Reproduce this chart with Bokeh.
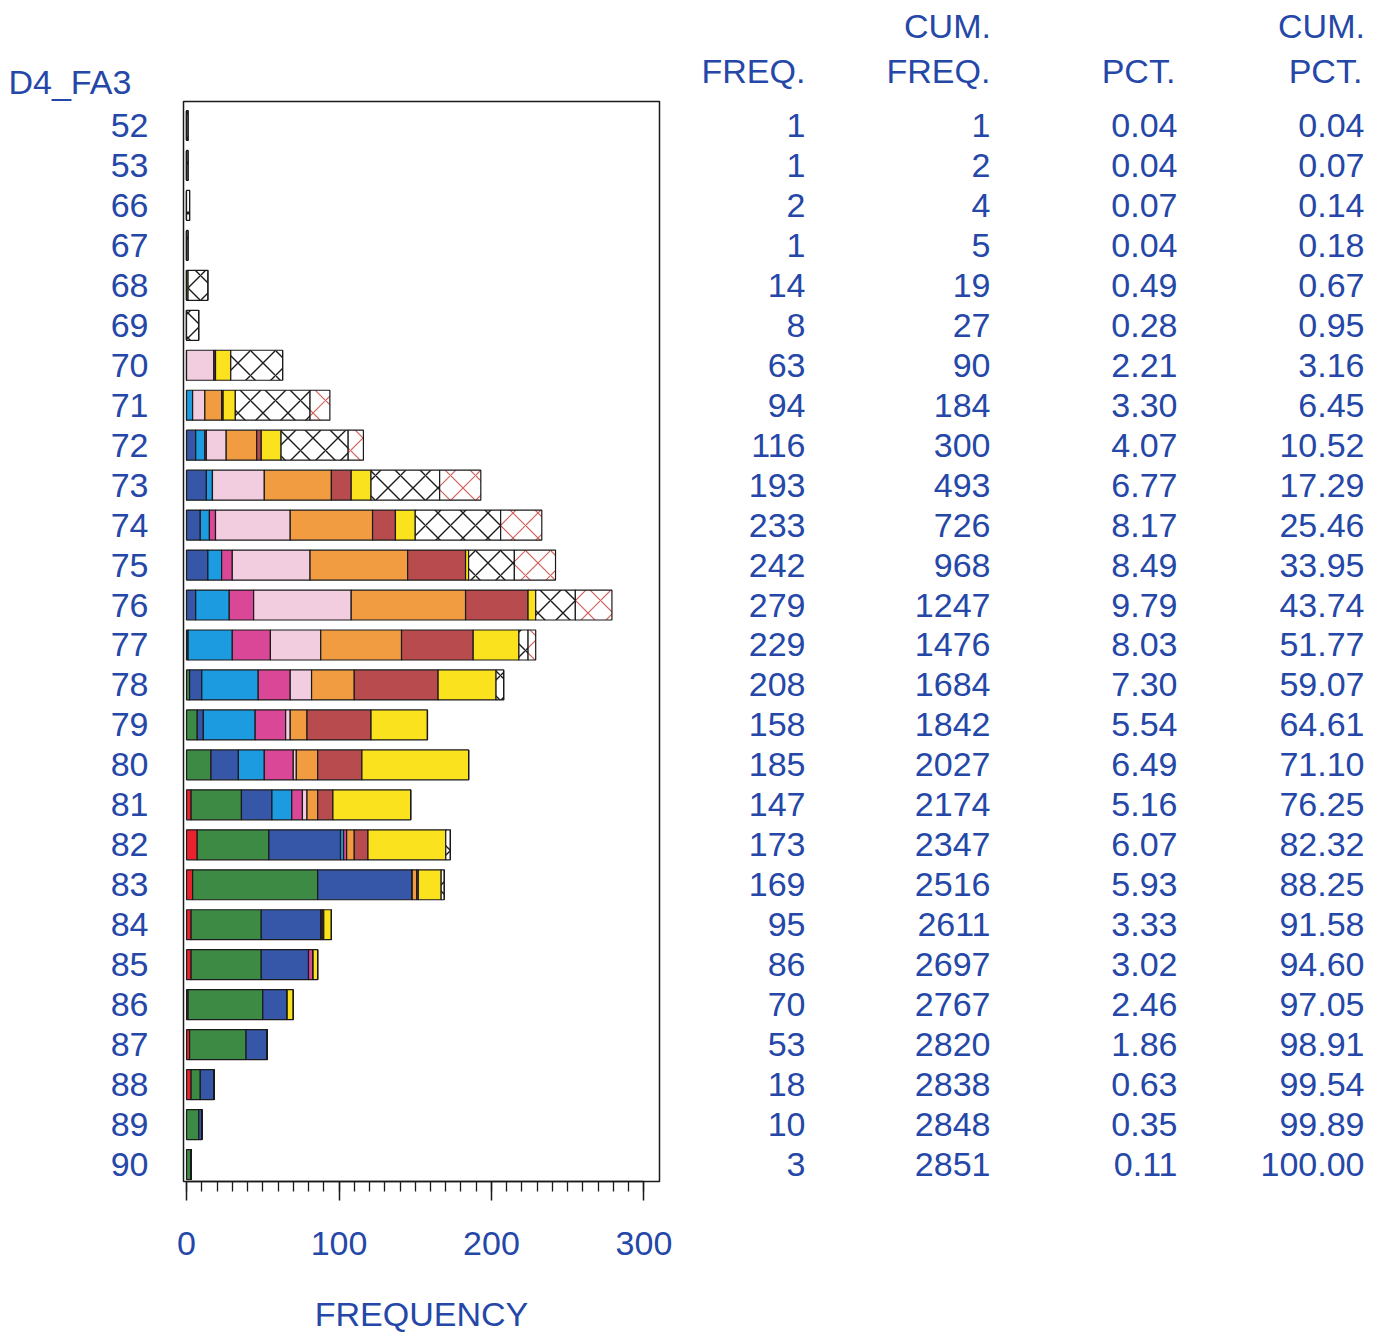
from bokeh.plotting import figure
from bokeh.models import Range1d, FixedTicker, ColumnDataSource, LinearAxis
from bokeh.layouts import row
from bokeh.transform import stack
from bokeh.core.properties import value
from bokeh.embed import file_html
from bokeh.resources import INLINE

# ---------------- data ----------------
categories = ["52", "53", "66", "67", "68", "69", "70", "71", "72", "73", "74", "75", "76", "77",
              "78", "79", "80", "81", "82", "83", "84", "85", "86", "87", "88", "89", "90"]
freq = [1, 1, 2, 1, 14, 8, 63, 94, 116, 193, 233, 242, 279, 229,
        208, 158, 185, 147, 173, 169, 95, 86, 70, 53, 18, 10, 3]
cum_freq = [1, 2, 4, 5, 19, 27, 90, 184, 300, 493, 726, 968, 1247, 1476,
            1684, 1842, 2027, 2174, 2347, 2516, 2611, 2697, 2767, 2820, 2838, 2848, 2851]
pct = ["0.04", "0.04", "0.07", "0.04", "0.49", "0.28", "2.21", "3.30", "4.07", "6.77", "8.17",
       "8.49", "9.79", "8.03", "7.30", "5.54", "6.49", "5.16", "6.07", "5.93", "3.33", "3.02",
       "2.46", "1.86", "0.63", "0.35", "0.11"]
cum_pct = ["0.04", "0.07", "0.14", "0.18", "0.67", "0.95", "3.16", "6.45", "10.52", "17.29",
           "25.46", "33.95", "43.74", "51.77", "59.07", "64.61", "71.10", "76.25", "82.32",
           "88.25", "91.58", "94.60", "97.05", "98.91", "99.54", "99.89", "100.00"]
header_line2 = ["FREQ.", "FREQ.", "PCT.", "PCT."]
header_line1 = ["", "CUM.", "", "CUM."]
y_title = "D4_FA3"
x_title = "FREQUENCY"
x_ticks = [0, 100, 200, 300]

# subgroup series (stack order left -> right)
s_red     = [0, 0, 0, 0, 0, 0, 0, 0, 0, 0, 0, 0, 0, 0, 0, 0, 0, 3, 7, 4, 3, 3, 1, 2, 3, 0, 0]
s_green   = [0, 0, 0, 0, 0, 0, 0, 0, 0, 0, 0, 0, 0, 0, 2, 7, 16, 33, 47, 82, 46, 46, 49, 37, 6, 8, 3]
s_blue    = [0, 0, 0, 0, 0, 0, 0, 0, 6, 13, 9, 14, 6, 1, 8, 4, 18, 20, 47, 62, 39, 31, 16, 14, 9, 2, 0]
s_cyan    = [0, 0, 0, 0, 0, 0, 0, 4, 6, 4, 6, 9, 22, 29, 37, 34, 17, 13, 2, 0, 0, 0, 0, 0, 0, 0, 0]
s_magenta = [0, 0, 0, 0, 0, 0, 0, 0, 1, 0, 4, 7, 16, 25, 21, 20, 19, 7, 2, 0, 1, 3, 0, 0, 0, 0, 0]
s_pink    = [0, 0, 0, 0, 0, 0, 18, 8, 13, 34, 49, 51, 64, 33, 14, 3, 2, 3, 0, 0, 0, 0, 0, 0, 0, 0, 0]
s_orange  = [0, 0, 0, 0, 0, 0, 0, 11, 20, 44, 54, 64, 75, 53, 28, 11, 14, 7, 5, 3, 0, 0, 0, 0, 0, 0, 0]
s_brick   = [0, 0, 0, 0, 0, 0, 1, 1, 3, 13, 15, 38, 41, 47, 55, 42, 29, 10, 9, 1, 1, 0, 0, 0, 0, 0, 0]
s_yellow  = [0, 0, 0, 0, 1, 0, 10, 8, 13, 13, 13, 2, 5, 30, 38, 37, 70, 51, 51, 15, 5, 3, 4, 0, 0, 0, 0]
s_hatch   = [1, 1, 2, 1, 13, 8, 34, 49, 44, 45, 56, 30, 26, 6, 5, 0, 0, 0, 3, 2, 0, 0, 0, 0, 0, 0, 0]
s_hatchr  = [0, 0, 0, 0, 0, 0, 0, 13, 10, 27, 27, 27, 24, 5, 0, 0, 0, 0, 0, 0, 0, 0, 0, 0, 0, 0, 0]

# ---------------- styles ----------------
BLUE_TXT = "#2447a8"
FONT = "Liberation Sans"
FS_PX = 34
FS = f"{FS_PX}px"
EDGE = "#1a1a1a"
# approximate advance widths (em) of Liberation Sans, used to right-align header labels
ADV = {"F": 0.611, "R": 0.722, "E": 0.667, "Q": 0.778, ".": 0.278, "P": 0.667, "C": 0.722,
       "T": 0.611, "U": 0.722, "M": 0.833}


def text_w(s):
    return sum(ADV.get(ch, 0.6) for ch in s) * FS_PX


series = [
    ("red", s_red, dict(fill_color="#e8232e")),
    ("green", s_green, dict(fill_color="#3c8a43")),
    ("blue", s_blue, dict(fill_color="#3656a8")),
    ("cyan", s_cyan, dict(fill_color="#1d9be0")),
    ("magenta", s_magenta, dict(fill_color="#d94796")),
    ("pink", s_pink, dict(fill_color="#f2cde0")),
    ("orange", s_orange, dict(fill_color="#f29c42")),
    ("brick", s_brick, dict(fill_color="#b84b4d")),
    ("yellow", s_yellow, dict(fill_color="#fbe21e")),
    ("hatch", s_hatch, dict(fill_color="white", hatch_pattern="diagonal_cross",
                            hatch_color="#1a1a1a", hatch_scale=25, hatch_weight=1.4)),
    ("hatchr", s_hatchr, dict(fill_color="white", hatch_pattern="diagonal_cross",
                              hatch_color="#d0605a", hatch_scale=25, hatch_weight=1.2)),
]

n = len(categories)
ys = list(range(n))
data = {"y": ys}
for name, vals, _ in series:
    data[name] = vals
src = ColumnDataSource(data)

H = 1335
TOP = 101
BOTTOM_BORDER = H - 1182

y_rng = Range1d(26.425, -0.6)

# ---------------- bar chart ----------------
p = figure(width=680, height=H, output_backend="svg", toolbar_location=None,
           x_range=Range1d(-2, 310.2), y_range=y_rng,
           min_border_left=183, min_border_right=21, min_border_top=TOP,
           min_border_bottom=BOTTOM_BORDER)
p.grid.visible = False
p.outline_line_color = EDGE
p.outline_line_width = 1.5
p.background_fill_color = "white"
p.border_fill_color = "white"

p.title.text = y_title
p.title.align = "left"
p.title.offset = -175
p.title.standoff = 1
p.title.text_font = FONT
p.title.text_font_size = FS
p.title.text_font_style = "normal"
p.title.text_color = BLUE_TXT

names = [s[0] for s in series]
for k, (name, vals, style) in enumerate(series):
    p.hbar(y="y", left=stack(*names[:k]), right=stack(*names[:k + 1]), height=0.75,
           source=src, line_color=EDGE, line_width=1.2, **style)

# x axis
xa = p.xaxis[0]
xa.ticker = FixedTicker(ticks=x_ticks, minor_ticks=list(range(0, 301, 10)))
xa.bounds = (0, 300)
xa.axis_line_color = EDGE
xa.axis_line_width = 1.5
xa.major_tick_in = 0
xa.major_tick_out = 19
xa.minor_tick_in = 0
xa.minor_tick_out = 10
xa.major_tick_line_color = EDGE
xa.minor_tick_line_color = EDGE
xa.major_tick_line_width = 1.5
xa.minor_tick_line_width = 1.3
xa.major_label_standoff = 31
xa.major_label_text_font = FONT
xa.major_label_text_font_size = FS
xa.major_label_text_color = BLUE_TXT
xa.axis_label = x_title
xa.axis_label_text_font = FONT
xa.axis_label_text_font_size = FS
xa.axis_label_text_font_style = "normal"
xa.axis_label_text_color = BLUE_TXT
xa.axis_label_standoff = 37

# y axis
ya = p.yaxis[0]
ya.ticker = FixedTicker(ticks=ys)
ya.major_label_overrides = {i: c for i, c in enumerate(categories)}
ya.axis_line_color = None
ya.major_tick_line_color = None
ya.minor_tick_line_color = None
ya.major_label_standoff = 29
ya.major_label_text_font = FONT
ya.major_label_text_font_size = FS
ya.major_label_text_color = BLUE_TXT

# ---------------- frequency table ----------------
t = figure(width=693, height=H, output_backend="svg", toolbar_location=None,
           x_range=Range1d(0, 693), y_range=y_rng,
           x_axis_location=None, y_axis_location=None,
           min_border_left=0, min_border_right=0, min_border_top=TOP,
           min_border_bottom=BOTTOM_BORDER)
t.grid.visible = False
t.outline_line_color = None
t.border_fill_color = "white"
t.background_fill_color = "white"

col_x = [125, 310, 497, 684]   # right edges of the table columns
tsrc = ColumnDataSource(dict(y=ys, freq=[str(v) for v in freq], cum=[str(v) for v in cum_freq],
                             pct=pct, cpct=cum_pct))
for cx, field in zip(col_x, ["freq", "cum", "pct", "cpct"]):
    t.text(x=cx, y="y", text=field, source=tsrc, text_align="right", text_baseline="middle",
           text_font=value(FONT), text_font_size=value(FS), text_color=BLUE_TXT)


def header_axis(labels, standoff):
    ticks, over = [], {}
    for cx, lab in zip(col_x, labels):
        if not lab:
            continue
        tk = int(round(cx - text_w(lab) / 2))
        ticks.append(tk)
        over[tk] = lab
    ax = LinearAxis(ticker=FixedTicker(ticks=ticks), major_label_overrides=over)
    ax.axis_line_color = None
    ax.major_tick_line_color = None
    ax.minor_tick_line_color = None
    ax.major_tick_out = 0
    ax.major_tick_in = 0
    ax.major_label_standoff = standoff
    ax.major_label_text_font = FONT
    ax.major_label_text_font_size = FS
    ax.major_label_text_color = BLUE_TXT
    return ax


t.add_layout(header_axis(header_line2, 12), "above")
t.add_layout(header_axis(header_line1, 4), "above")

layout = row(p, t)
open("out.html", "w").write(file_html(layout, INLINE))
